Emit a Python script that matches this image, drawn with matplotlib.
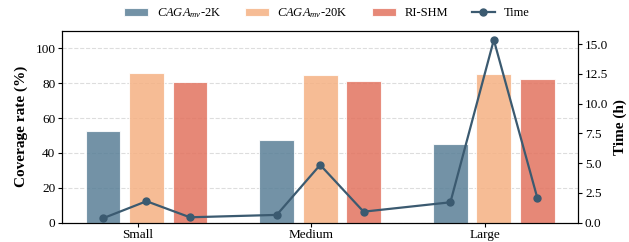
import numpy as np
import matplotlib
matplotlib.use("Agg")
import matplotlib.pyplot as plt

plt.rcParams['font.family'] = 'Liberation Serif'
plt.rcParams['mathtext.fontset'] = 'custom'
plt.rcParams['mathtext.it'] = 'Liberation Serif:italic'
plt.rcParams['mathtext.rm'] = 'Liberation Serif'

# data
sizes = ['Small', 'Medium', 'Large']
cov_2k = [52.5, 47.5, 45.2]
cov_20k = [85.9, 84.9, 85.5]
cov_rishm = [80.7, 81.2, 82.6]
# time per method per size (h)
time_2k = [0.37, 0.65, 1.71]
time_20k = [1.80, 4.85, 15.35]
time_rishm = [0.45, 0.92, 2.10]

labels = ['$CAGA_{mv}$-2K', '$CAGA_{mv}$-20K', 'RI-SHM']
colors = ['#5a7f97', '#f5b183', '#e2735f']
line_color = '#3b5a70'

w = 0.2
step = 0.25
x = np.arange(len(sizes))

fig, ax = plt.subplots(figsize=(6.29, 2.42), dpi=100)
ax2 = ax.twinx()

series = [cov_2k, cov_20k, cov_rishm]
handles = []
for i, vals in enumerate(series):
    b = ax.bar(x + i * step, vals, w, color=colors[i], alpha=0.85,
               edgecolor='white', linewidth=0.8, label=labels[i], zorder=2)
    handles.append(b)

# time line runs across all bars in order
tx = []
ty = []
for k in range(len(sizes)):
    for i, t in enumerate([time_2k, time_20k, time_rishm]):
        tx.append(x[k] + i * step)
        ty.append(t[k])
ln, = ax2.plot(tx, ty, '-o', color=line_color, lw=1.6, ms=5, label='Time', zorder=3)
handles.append(ln)

ax.set_xticks(x + w)
ax.set_xticklabels(sizes, fontsize=9.5)
ax.tick_params(axis='x', length=3, pad=1.5)
ax.set_ylim(0, 110)
ax.set_yticks([0, 20, 40, 60, 80, 100])
ax.tick_params(axis='y', labelsize=9.5, length=3, pad=2)
ax.set_ylabel('Coverage rate (%)', fontsize=11, fontweight='bold', labelpad=5)
ax.yaxis.grid(True, linestyle='--', color='#dddddd', lw=0.8, zorder=0)
ax.set_axisbelow(True)

ax2.set_ylim(0, 16.1)
ax2.set_yticks([0, 2.5, 5, 7.5, 10, 12.5, 15])
ax2.set_yticklabels(['0.0', '2.5', '5.0', '7.5', '10.0', '12.5', '15.0'])
ax2.tick_params(axis='y', labelsize=9.5, length=3, pad=2)
ax2.set_ylabel('Time (h)', fontsize=11, fontweight='bold')

fig.legend(handles, labels + ['Time'], loc='upper center', ncol=4, frameon=False,
           fontsize=9, bbox_to_anchor=(0.52, 1.02), handlelength=1.9,
           handletextpad=0.7, columnspacing=1.9)

plt.subplots_adjust(left=0.099, right=0.919, top=0.872, bottom=0.08)
fig.savefig('out.png', dpi=100)
